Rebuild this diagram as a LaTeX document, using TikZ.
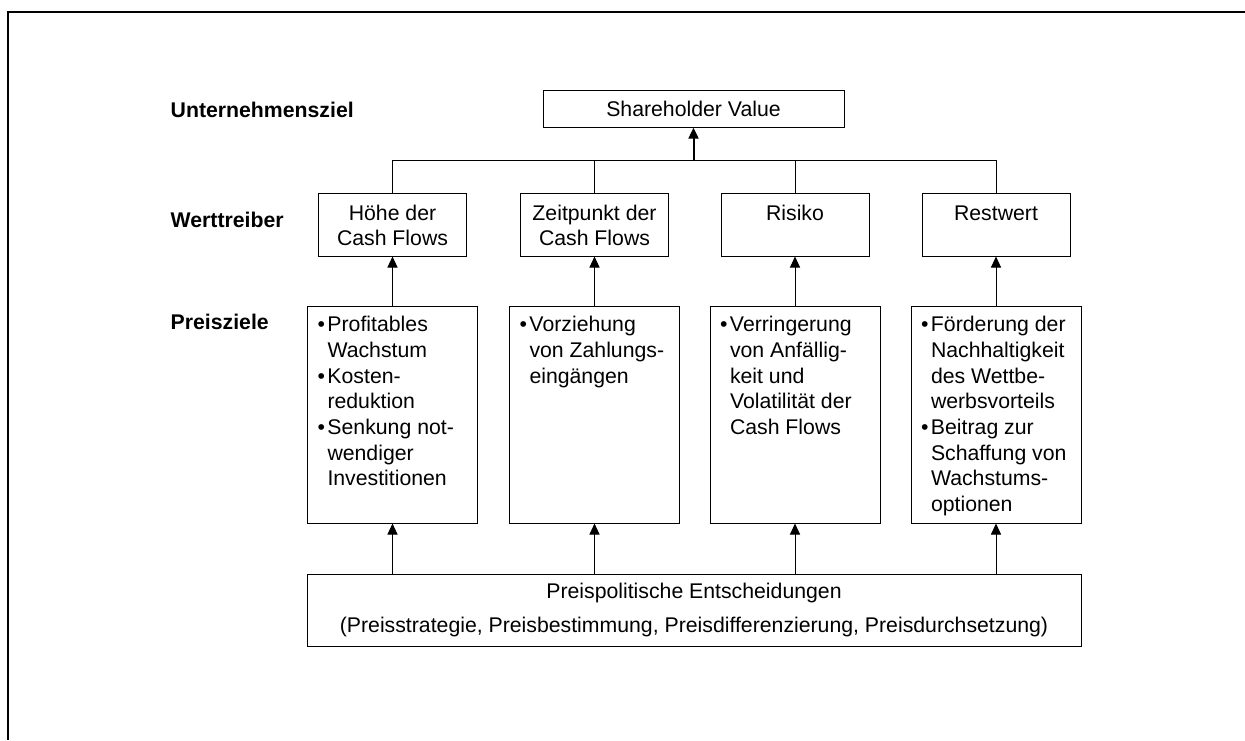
\documentclass[tikz,border=0pt]{standalone}
\usepackage{fontspec}
\setmainfont{Liberation Sans}
\usetikzlibrary{arrows.meta}
\newcommand\pbul{\makebox[10pt][l]{•}}
\newcommand\pind{\hspace*{10pt}}
\newcommand\wtext[1]{\parbox[c][63pt][t]{148pt}{\centering\fontsize{21.25pt}{24.4pt}\selectfont\rule{0pt}{27.7pt}#1}}
\newcommand\ptext[1]{\parbox[c][217pt][t]{150pt}{\raggedright\fontsize{21.25pt}{25.7pt}\selectfont\rule{0pt}{25.7pt}#1}}
\begin{document}
\begin{tikzpicture}[x=1pt,y=-1pt,
  font=\fontsize{21.25pt}{25.5pt}\selectfont,
  box/.style={draw, line width=1pt, inner sep=0pt},
  arr/.style={-{Triangle[width=10pt,length=11pt]}, line width=1pt},
  lbl/.style={anchor=base west, inner sep=0pt, font=\fontsize{21.25pt}{25.5pt}\selectfont\bfseries}]
\useasboundingbox (0,0) rectangle (1245,740);
\fill[white] (0,0) rectangle (1245,740);
% frame
\draw[line width=2pt] (8,740) -- (8,12) -- (1245,12);
% labels
\node[lbl] (l1) at (170.5,117.3) {Unternehmensziel};
\node[lbl] (l2) at (170.5,227.3) {Werttreiber};
\node[lbl] (l3) at (170.5,329.3) {Preisziele};
% top
\node[box, minimum width=301pt, minimum height=36.3pt] (sv) at (693.5,109) {Shareholder Value};
% Werttreiber
\node[box] (w1) at (392.5,224.5) {\wtext{Höhe der\\Cash Flows}};
\node[box] (w2) at (594.5,224.5) {\wtext{Zeitpunkt der\\Cash Flows}};
\node[box] (w3) at (795,224.5) {\wtext{Risiko}};
\node[box] (w4) at (996,224.5) {\wtext{Restwert}};
% Preisziele
\node[box, inner xsep=10pt] (p1) at (392.5,414.5) {\ptext{\pbul Profitables\\ \pind Wachstum\\ \pbul Kosten-\\ \pind reduktion\\ \pbul Senkung not-\\ \pind wendiger\\ \pind Investitionen}};
\node[box, inner xsep=10pt] (p2) at (594.5,414.5) {\ptext{\pbul Vorziehung\\ \pind von Zahlungs-\\ \pind eingängen}};
\node[box, inner xsep=10pt] (p3) at (795,414.5) {\ptext{\pbul Verringerung\\ \pind von Anfällig-\\ \pind keit und\\ \pind Volatilität der\\ \pind Cash Flows}};
\node[box, inner xsep=10pt] (p4) at (996,414.5) {\ptext{\pbul Förderung der\\ \pind Nachhaltigkeit\\ \pind des Wettbe-\\ \pind werbsvorteils\\ \pbul Beitrag zur\\ \pind Schaffung von\\ \pind Wachstums-\\ \pind optionen}};
% bottom
\node[box, minimum width=774pt, minimum height=72pt, align=center, font=\fontsize{21.25pt}{34pt}\selectfont] (pe) at (694,610) {Preispolitische Entscheidungen\\(Preisstrategie, Preisbestimmung, Preisdifferenzierung, Preisdurchsetzung)};
% tree
\coordinate (hub) at (693.5,160);
\draw[line width=1pt] (w1.north) -- (w1.north |- hub) -- (w4.north |- hub) -- (w4.north);
\draw[line width=1pt] (w2.north) -- (w2.north |- hub);
\draw[line width=1pt] (w3.north) -- (w3.north |- hub);
\draw[arr, line width=2pt] (hub) -- (sv.south);
% arrows
\foreach \i in {1,2,3,4} {
  \draw[arr] (p\i.north) -- (w\i.south);
  \draw[arr] (pe.north -| p\i.south) -- (p\i.south);
}
\end{tikzpicture}
\end{document}
